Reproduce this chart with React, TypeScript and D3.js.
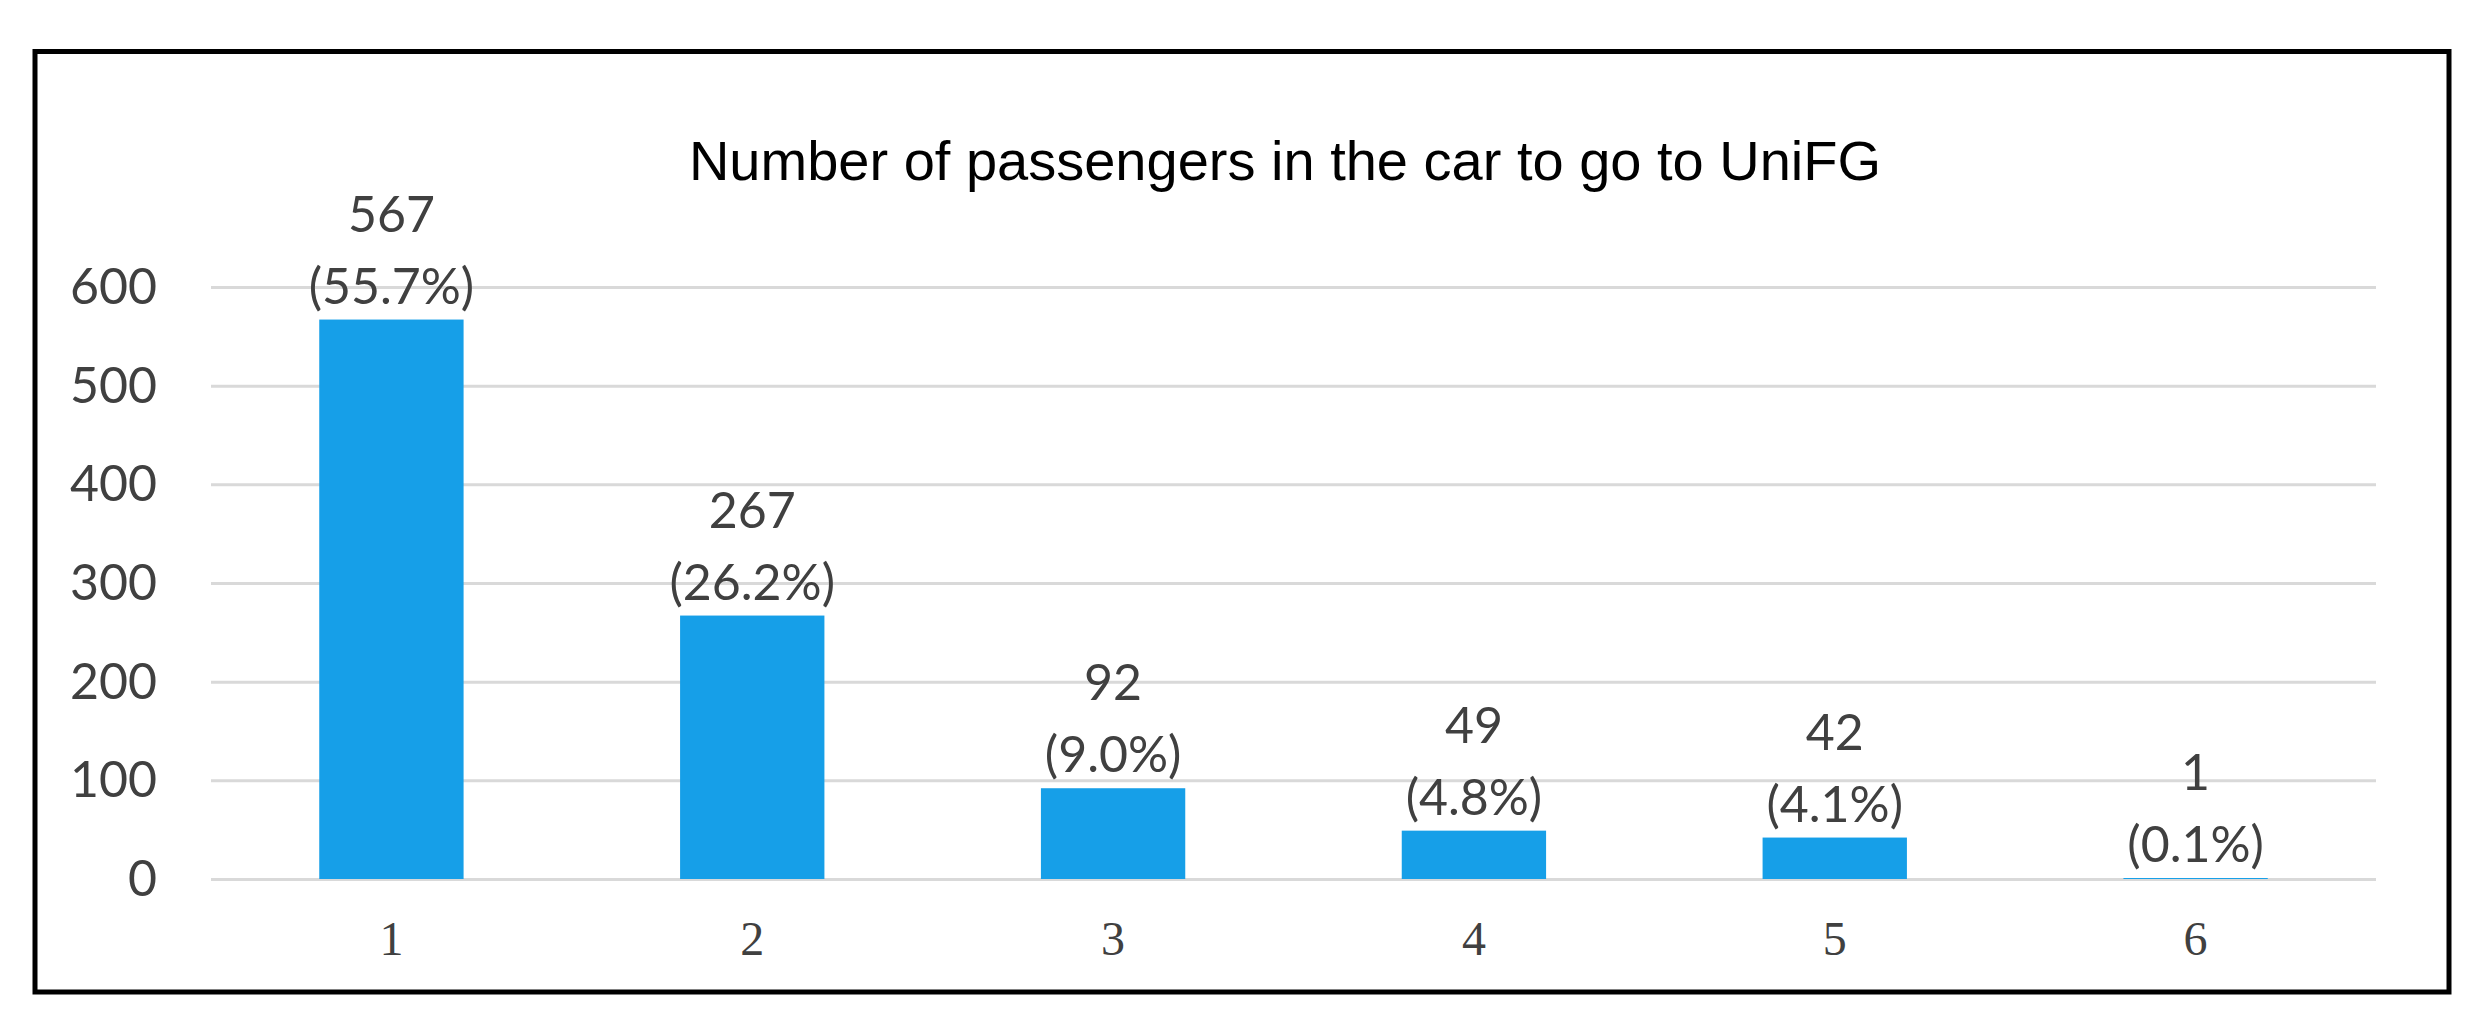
import { useEffect, useRef } from "react";
import * as d3 from "d3";

const categories = ["1", "2", "3", "4", "5", "6"];
const counts = [567, 267, 92, 49, 42, 1];
const percents = ["55.7%", "26.2%", "9.0%", "4.8%", "4.1%", "0.1%"];
const yTicks = [0, 100, 200, 300, 400, 500, 600];
const title = "Number of passengers in the car to go to UniFG";

export default function App() {
  const svgRef = useRef<SVGSVGElement>(null);

  useEffect(() => {
    if (!svgRef.current) return;
    const W = 2488;
    const H = 1026;
    const margin = { top: 287, right: 112, bottom: 147, left: 211 };
    const width = W - margin.left - margin.right;
    const height = H - margin.top - margin.bottom - 0; // 0 line at y=879

    const root = d3.select(svgRef.current);
    root.selectAll("*").remove();

    root.append("rect").attr("width", W).attr("height", H).attr("fill", "#fff");

    // outer frame
    root.append("rect")
      .attr("x", 35)
      .attr("y", 51.5)
      .attr("width", 2449 - 35)
      .attr("height", 992 - 51.5)
      .attr("fill", "none")
      .attr("stroke", "#000")
      .attr("stroke-width", 5);

    root.append("text")
      .attr("x", 1285)
      .attr("y", 180)
      .attr("text-anchor", "middle")
      .attr("font-family", "'Liberation Sans', Arial, sans-serif")
      .attr("font-size", 56)
      .attr("fill", "#000")
      .text(title);

    const svg = root.append("g").attr("transform", `translate(${margin.left},${margin.top})`);

    const x = d3.scaleBand().domain(categories).range([0, width]).paddingInner(0.6).paddingOuter(0.3);
    const y = d3.scaleLinear().domain([0, 600]).range([height, 0]);

    // gridlines
    svg.append("g")
      .call(d3.axisLeft(y).tickValues(yTicks).tickSize(-width).tickFormat(() => ""))
      .call((g) => g.select(".domain").remove())
      .call((g) => g.selectAll(".tick line").attr("stroke", "#d9d9d9").attr("stroke-width", 3));

    // y labels
    svg.append("g")
      .selectAll("text")
      .data(yTicks)
      .enter()
      .append("text")
      .attr("x", -54)
      .attr("y", (d) => y(d) + 17)
      .attr("text-anchor", "end")
      .attr("font-family", "Lato, sans-serif")
      .attr("font-size", 50)
      .attr("fill", "#404040")
      .text((d) => d);

    // bars
    svg.selectAll(".bar")
      .data(counts)
      .enter()
      .append("rect")
      .attr("x", (_, i) => x(categories[i])!)
      .attr("y", (d) => y(d))
      .attr("width", x.bandwidth())
      .attr("height", (d) => height - y(d))
      .attr("fill", "#169FE8");

    // data labels
    counts.forEach((c, i) => {
      const cx = x(categories[i])! + x.bandwidth() / 2;
      const base = y(c) - 16;
      const t = svg.append("text")
        .attr("text-anchor", "middle")
        .attr("font-family", "Lato, sans-serif")
        .attr("font-size", 50)
        .attr("fill", "#404040");
      t.append("tspan").attr("x", cx).attr("y", base - 72).text(c);
      t.append("tspan").attr("x", cx).attr("y", base).text(`(${percents[i]})`);
    });

    // x labels
    svg.append("g")
      .selectAll("text")
      .data(categories)
      .enter()
      .append("text")
      .attr("x", (d) => x(d)! + x.bandwidth() / 2)
      .attr("y", height + 76)
      .attr("text-anchor", "middle")
      .attr("font-family", "'Liberation Serif', 'Times New Roman', serif")
      .attr("font-size", 48)
      .attr("fill", "#404040")
      .text((d) => d);
  }, []);

  return (
    <svg
      ref={svgRef}
      width={2488}
      height={1026}
      style={{ position: "absolute", left: 0, top: 0, display: "block" }}
    />
  );
}
